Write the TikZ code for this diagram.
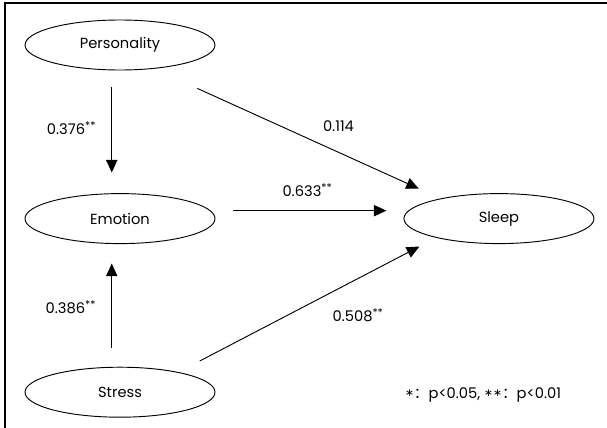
\documentclass[tikz,border=0pt]{standalone}
\usepackage{fontspec}
\setmainfont{Poppins}
\newfontfamily\symfont{DejaVu Sans}
\newfontfamily\cjkfont{Noto Sans CJK SC}
\usetikzlibrary{positioning,shapes,arrows.meta}

\begin{document}
\begin{tikzpicture}[x=0.75pt, y=-0.75pt, nodes = {align = center}, font=\fontsize{11}{13.2}\selectfont,
    var/.style = {draw, ellipse, line width=0.7pt, minimum width=142.5pt, minimum height=37.5pt, inner sep=0pt},
    link/.style = {-{Triangle[length=9.5pt,width=8.5pt]}, line width=0.7pt}]
    \useasboundingbox (0,0) rectangle (607,428);
    \draw[line width=1pt] (5,428) -- (5,3) -- (607,3);
    % variables
    \node (personality) [var] at (120,45) {Personality};
    \node (emotion) [var, below = 92pt of personality] {Emotion};
    \node (stress) [var, below = 92pt of emotion] {Stress};
    \node (sleep) [var, right = 141pt of emotion] {Sleep};
    \node (note) at (483,395) {\raisebox{0.25ex}{\symfont\fontsize{8}{9}\selectfont ∗}{\cjkfont ：}p<0.05, \raisebox{0.25ex}{\symfont\fontsize{8}{9}\selectfont ∗∗}{\cjkfont ：}p<0.01};
    % paths
    \path[link, shorten <=12.75pt, shorten >=15.5pt] (personality.252) edge node [pos=0.47, left=8pt] {0.376\textsuperscript{\footnotesize **}} (emotion.108);
    \path[link, shorten <=14.3pt, shorten >=14.7pt] (stress.108) edge node [pos=0.486, left=8pt] {0.386\textsuperscript{\footnotesize **}} (emotion.252);
    \path[link, shorten <=35.7pt, shorten >=17.8pt] (personality.-35) edge node [pos=0.644, above=12pt] {0.114} (sleep.161);
    \path[link, shorten <=17pt, shorten >=16.3pt] (emotion.5) edge node [pos=0.49, above=7pt] {0.633\textsuperscript{\footnotesize **}} (sleep.175);
    \path[link, shorten <=18pt, shorten >=14.2pt] (stress.19) edge node [pos=0.697, below=19pt] {0.508\textsuperscript{\footnotesize **}} (sleep.197);
\end{tikzpicture}
\end{document}
